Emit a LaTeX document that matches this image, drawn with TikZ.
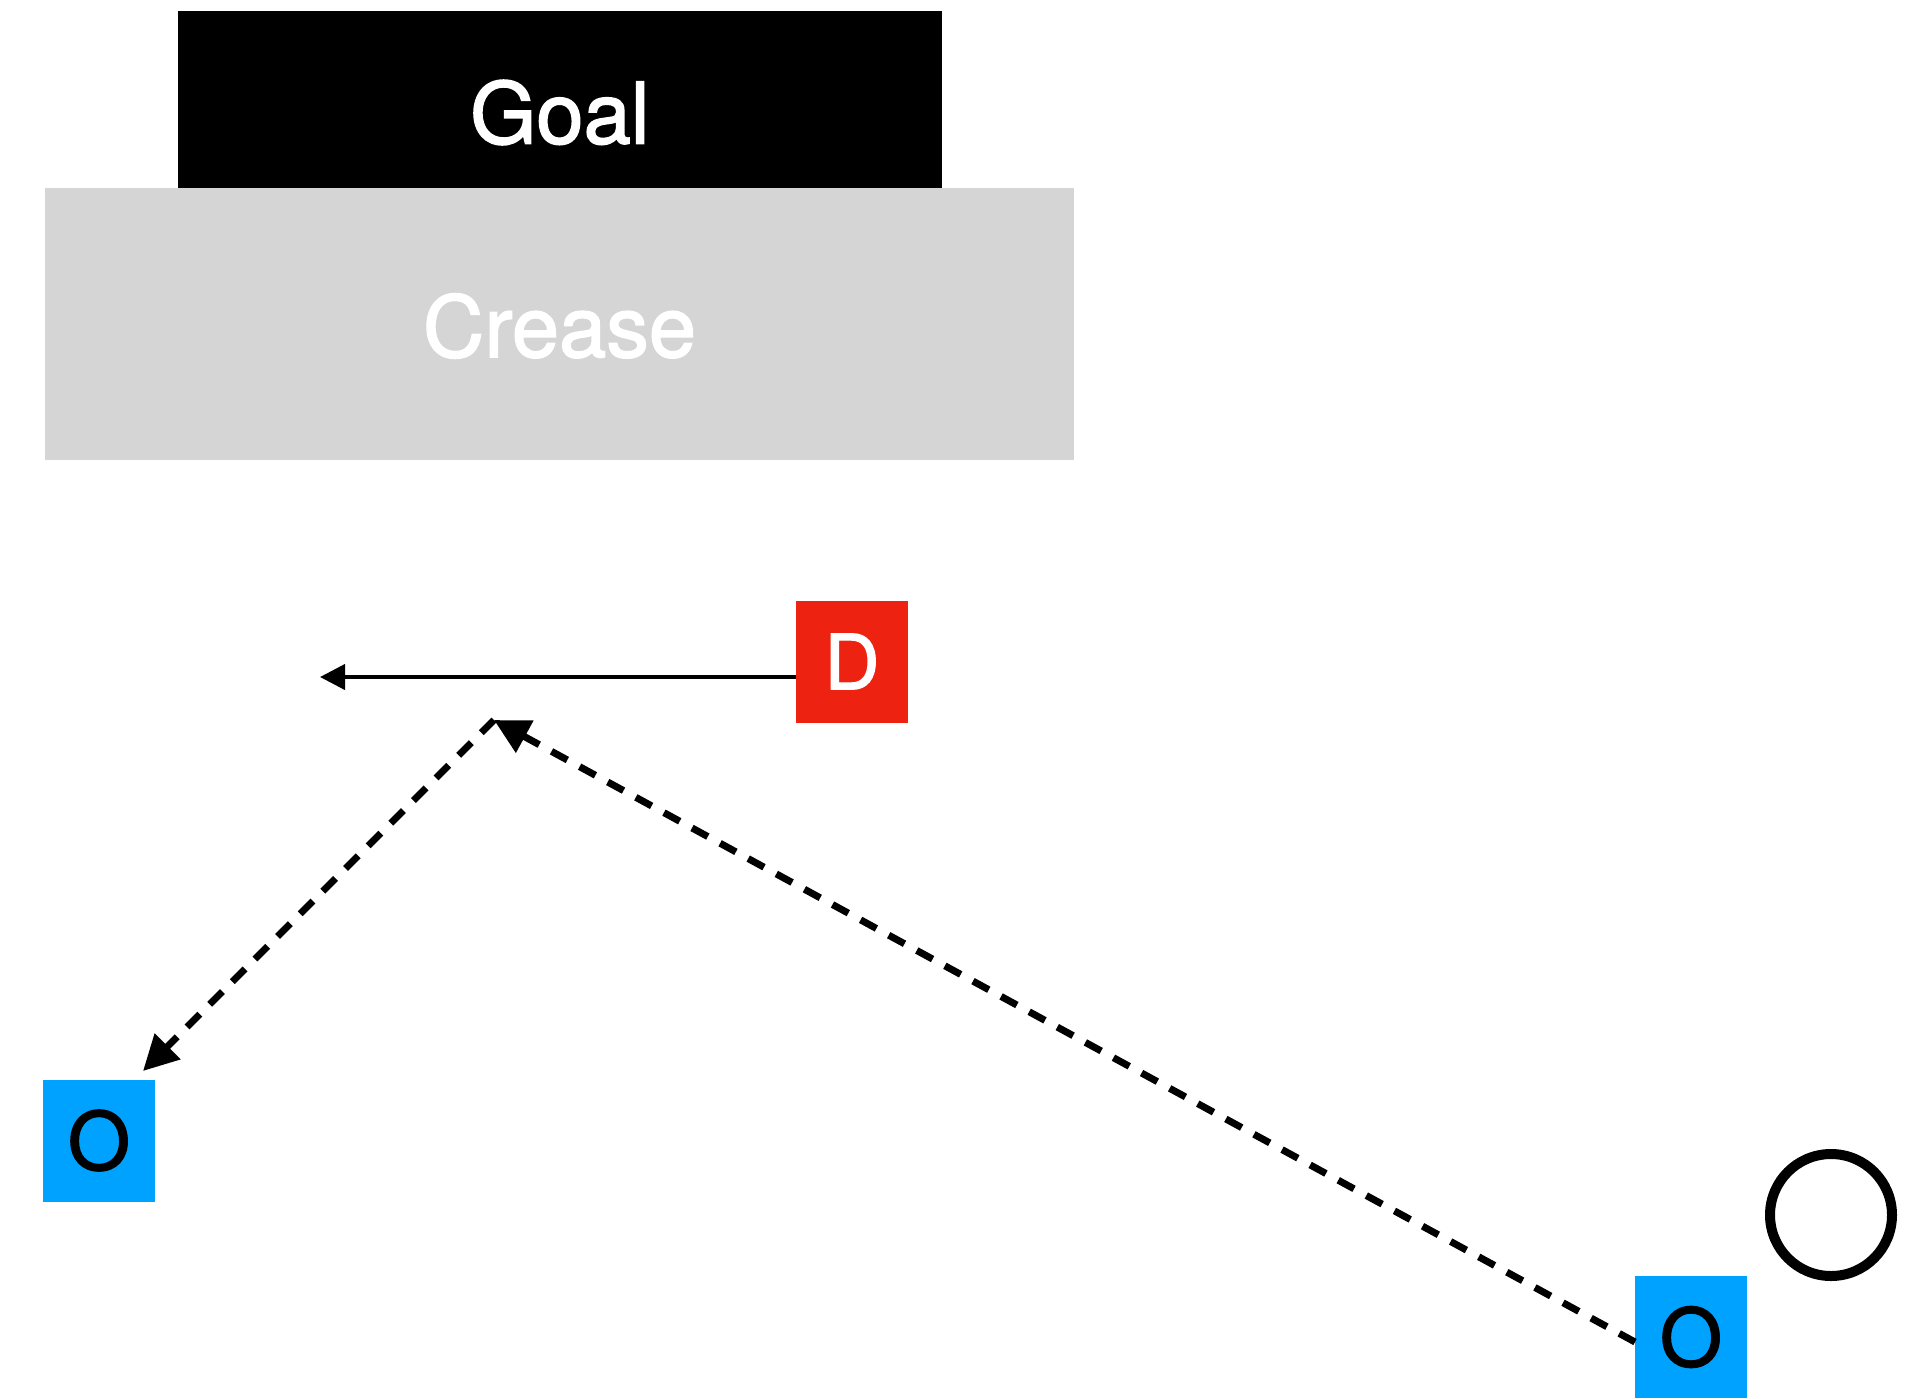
\documentclass[tikz,border=0pt]{standalone}
\usepackage{fontspec}
\setmainfont{TeX Gyre Heros}[FakeBold=1.8]
\usetikzlibrary{arrows.meta}
\definecolor{creasegrey}{HTML}{D5D5D5}
\definecolor{defred}{HTML}{EE2211}
\definecolor{offblue}{HTML}{00A2FF}
\begin{document}
\begin{tikzpicture}[x=1pt,y=-1pt,
  zone/.style={rectangle,inner sep=0pt,outer sep=0pt,anchor=north west},
  bigtext/.style={text=white,font=\fontsize{85}{90}\selectfont,inner sep=0pt},
  player/.style={rectangle,inner sep=0pt,outer sep=0pt,minimum width=112pt,minimum height=122pt},
  offence/.style={player,fill=offblue,text=black,font=\fontsize{80}{84}\selectfont},
  defence/.style={player,fill=defred,text=white,font=\fontsize{76}{80}\selectfont},
  movearrow/.style={line width=4pt,-{Triangle[length=25pt,width=25pt]}},
  passarrow/.style={line width=7pt,dash pattern=on 18pt off 14pt,-{Triangle[length=35pt,width=35pt]}}]
  \useasboundingbox (0,0) rectangle (1927,1398);

  % goal and crease
  \node[zone,fill=creasegrey,minimum width=1029pt,minimum height=272pt] (crease) at (45,188) {};
  \node[zone,fill=black,minimum width=764pt,minimum height=177pt] (goal) at (178,11) {};
  \node[bigtext] (goallabel) at ([yshift=-13pt]goal.center) {Goal};
  \node[bigtext] (creaselabel) at ([yshift=-2pt]crease.center) {Crease};

  % players
  \node[defence] (D) at (852,661.5) {D};
  \node[offence] (O1) at (99,1140.5) {O};
  \node[offence] (O2) at (1691,1337) {O};
  \node[circle,draw=black,line width=10pt,minimum size=122pt,inner sep=0pt] (puck) at (1831,1215) {};

  % movement and passes
  \coordinate (dend) at (320,677);
  \coordinate (turn) at (494,720);
  \coordinate (recv) at (143,1071);
  \draw[movearrow] ([yshift=-15.5pt]D.west) -- (dend);
  \draw[passarrow] ([yshift=-5pt]O2.west) -- (turn);
  \draw[passarrow] (turn) -- (recv);
\end{tikzpicture}
\end{document}
